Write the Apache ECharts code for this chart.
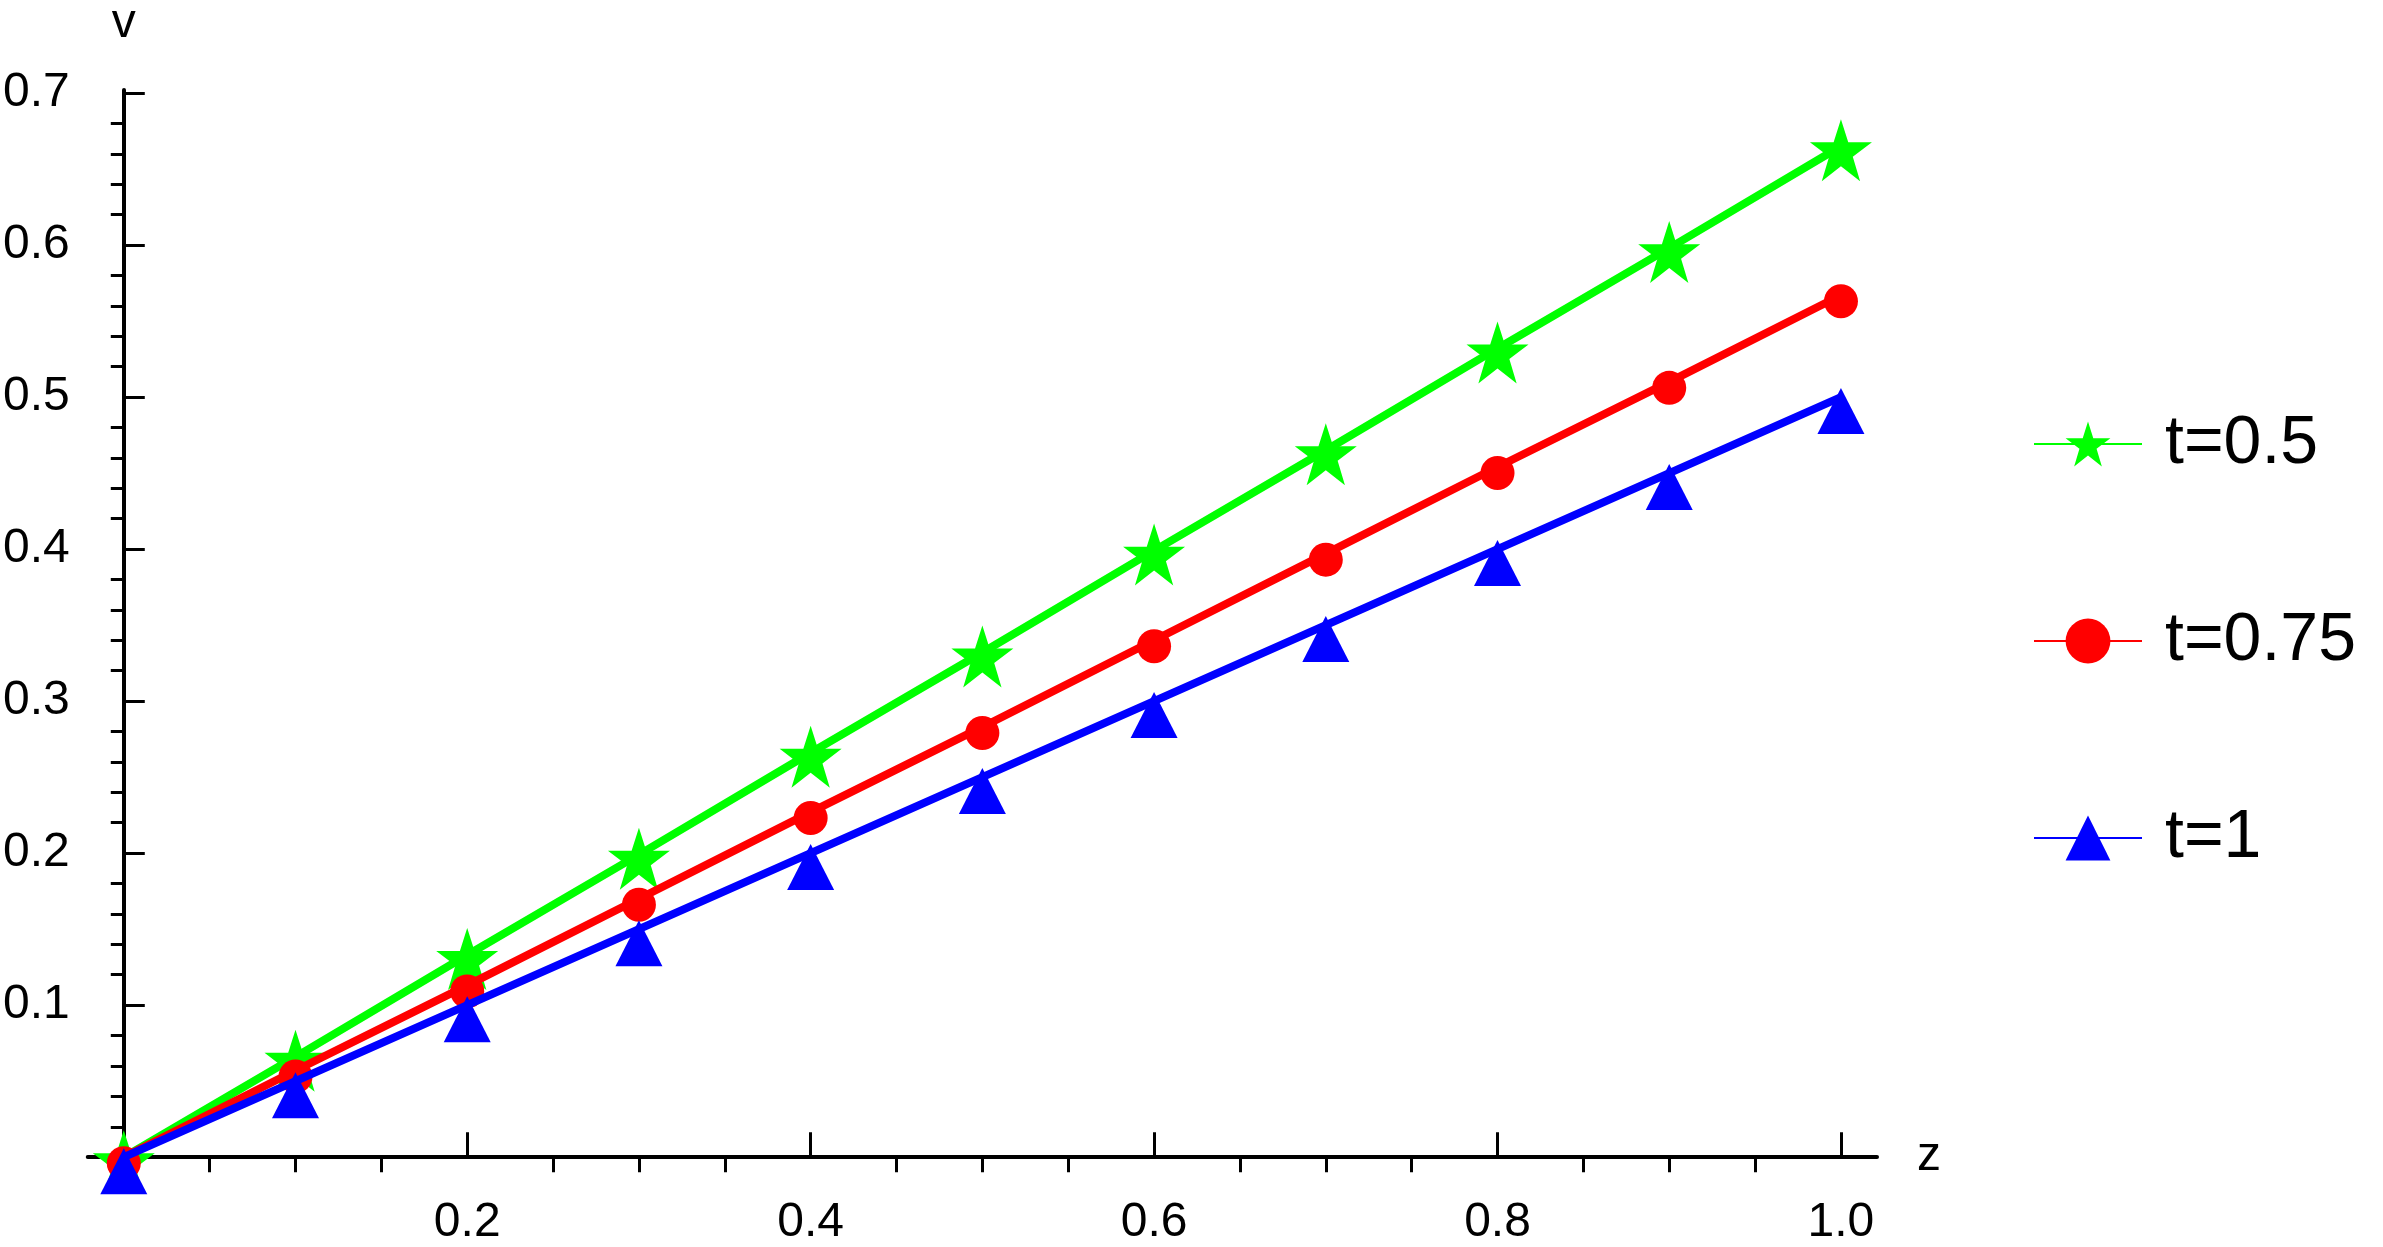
<!DOCTYPE html>
<html>
<head>
<meta charset="utf-8">
<script src="https://cdn.jsdelivr.net/npm/echarts@6/dist/echarts.min.js"></script>
<style>
  html, body { margin: 0; padding: 0; background: #fff; }
  #chart { width: 2383px; height: 1247px; }
</style>
</head>
<body>
<div id="chart"></div>
<script>
(function () {
  var zValues = [0, 0.1, 0.2, 0.3, 0.4, 0.5, 0.6, 0.7, 0.8, 0.9, 1.0];
  var vHalf = [0, 0.066, 0.133, 0.199, 0.266, 0.332, 0.399, 0.465, 0.532, 0.598, 0.665];
  var vThreeQuarter = [0, 0.057, 0.113, 0.170, 0.227, 0.283, 0.340, 0.397, 0.454, 0.510, 0.567];
  var vOne = [0, 0.05, 0.10, 0.15, 0.20, 0.25, 0.30, 0.35, 0.40, 0.45, 0.50];

  var xMajorTicks = [0.2, 0.4, 0.6, 0.8, 1.0];
  var xMinorTicks = [0.05, 0.1, 0.15, 0.25, 0.3, 0.35, 0.45, 0.5, 0.55, 0.65, 0.7, 0.75, 0.85, 0.9, 0.95];
  var yMajorTicks = [0.1, 0.2, 0.3, 0.4, 0.5, 0.6, 0.7];
  var yMinorTicks = [0.02, 0.04, 0.06, 0.08, 0.12, 0.14, 0.16, 0.18, 0.22, 0.24, 0.26, 0.28,
    0.32, 0.34, 0.36, 0.38, 0.42, 0.44, 0.46, 0.48, 0.52, 0.54, 0.56, 0.58, 0.62, 0.64, 0.66, 0.68];

  var ink = '#000';
  var font = '"Liberation Sans", Arial, sans-serif';

  function pairs(ys) {
    return zValues.map(function (z, i) { return [z, ys[i]]; });
  }

  var xRange = { min: -0.021, max: 1.021 };
  var yRange = { min: -0.017, max: 0.702 };

  var chart = echarts.init(document.getElementById('chart'), null, { renderer: 'canvas' });
  chart.setOption({
    animation: false,
    textStyle: { fontFamily: font },
    grid: { left: 59, right: 506, top: 82, bottom: 10 },
    legend: {
      orient: 'vertical',
      left: 2028,
      top: 405,
      itemWidth: 108,
      itemHeight: 56,
      itemGap: 129,
      textStyle: { color: ink, fontSize: 68, fontFamily: font, padding: [0, 0, 0, 18] },
      data: ['t=0.5', 't=0.75', 't=1']
    },
    xAxis: [{
      type: 'value',
      min: xRange.min, max: xRange.max,
      name: 'z',
      nameLocation: 'end',
      nameGap: 40,
      nameTextStyle: { color: ink, fontSize: 48, fontFamily: font },
      axisLine: { onZero: true, lineStyle: { color: ink, width: 4 } },
      axisTick: { inside: true, length: 25, lineStyle: { color: ink, width: 3 }, customValues: xMajorTicks },
      axisLabel: { color: ink, fontSize: 48, margin: 16, customValues: xMajorTicks,
        formatter: function (v) { return v.toFixed(1); } },
      splitLine: { show: false }
    }, {
      type: 'value',
      min: xRange.min, max: xRange.max,
      axisLine: { onZero: true, lineStyle: { color: ink, width: 4, opacity: 0 } },
      axisTick: { inside: true, length: 15, lineStyle: { color: ink, width: 3 }, customValues: xMinorTicks },
      axisLabel: { show: false },
      splitLine: { show: false }
    }],
    yAxis: [{
      type: 'value',
      min: yRange.min, max: yRange.max,
      name: 'v',
      nameLocation: 'end',
      nameGap: 42,
      nameTextStyle: { color: ink, fontSize: 48, fontFamily: font, align: 'center' },
      axisLine: { onZero: true, lineStyle: { color: ink, width: 4 } },
      axisTick: { inside: true, length: 21, lineStyle: { color: ink, width: 3 }, customValues: yMajorTicks },
      axisLabel: { color: ink, fontSize: 48, margin: 18, customValues: yMajorTicks,
        formatter: function (v) { return v.toFixed(1); } },
      splitLine: { show: false }
    }, {
      type: 'value',
      min: yRange.min, max: yRange.max,
      axisLine: { onZero: true, lineStyle: { color: ink, width: 4, opacity: 0 } },
      axisTick: { inside: true, length: 13, lineStyle: { color: ink, width: 3 }, customValues: yMinorTicks },
      axisLabel: { show: false },
      splitLine: { show: false }
    }],
    series: [{
      name: 't=0.5',
      type: 'line',
      data: pairs(vHalf),
      symbol: 'path://M50,0 L61.8,35.3 L100,35.3 L69.1,57.6 L80.9,95 L50,72 L19.1,95 L30.9,57.6 L0,35.3 L38.2,35.3 Z',
      symbolSize: 62,
      symbolOffset: [0, 4],
      clip: false,
      color: '#00ff00',
      lineStyle: { color: '#00ff00', width: 8 },
      itemStyle: { color: '#00ff00' },
      z: 2
    }, {
      name: 't=0.75',
      type: 'line',
      data: pairs(vThreeQuarter),
      symbol: 'circle',
      symbolSize: 34,
      symbolOffset: [0, 6],
      clip: false,
      color: '#ff0000',
      lineStyle: { color: '#ff0000', width: 8 },
      itemStyle: { color: '#ff0000' },
      z: 3
    }, {
      name: 't=1',
      type: 'line',
      data: pairs(vOne),
      symbol: 'triangle',
      symbolSize: [47, 46],
      symbolOffset: [0, 14],
      clip: false,
      color: '#0000ff',
      lineStyle: { color: '#0000ff', width: 8 },
      itemStyle: { color: '#0000ff' },
      z: 4
    }]
  });
  window.addEventListener('resize', function () { chart.resize(); });
})();
</script>
</body>
</html>
